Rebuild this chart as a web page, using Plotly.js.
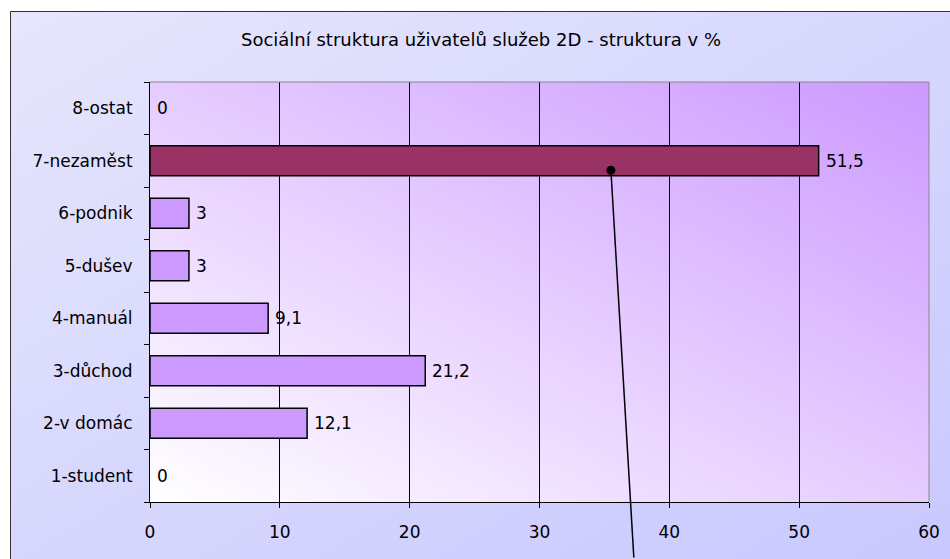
<!DOCTYPE html>
<html><head><meta charset="utf-8">
<script src="https://cdn.plot.ly/plotly-3.0.1.min.js"></script>
<style>html,body{margin:0;padding:0;background:#fff;}#chart{width:950px;height:559px;}</style>
</head><body><div id="chart"></div>
<script>
const titleText = 'Sociální struktura uživatelů služeb 2D - struktura v %';
const categories = ['1-student','2-v domác','3-důchod','4-manuál','5-dušev','6-podnik','7-nezaměst','8-ostat'];
const values = [0, 12.1, 21.2, 9.1, 3, 3, 51.5, 0];
const highlightCategory = '7-nezaměst';
const xTicks = [0, 10, 20, 30, 40, 50, 60];
const calloutX = 35.5;

const W = 950, H = 559, L = 150, R = 21, T = 82, B = 57;
const PW = W - L - R, PH = H - T - B;

function gradSvg(c0, c1, x1, y1, x2, y2) {
  const s = '<svg xmlns="http://www.w3.org/2000/svg" width="200" height="200" viewBox="0 0 200 200" preserveAspectRatio="none">' +
    '<defs><linearGradient id="g" x1="' + x1 + '" y1="' + y1 + '" x2="' + x2 + '" y2="' + y2 + '">' +
    '<stop offset="0" stop-color="' + c0 + '"/><stop offset="1" stop-color="' + c1 + '"/></linearGradient></defs>' +
    '<rect width="200" height="200" fill="url(#g)"/></svg>';
  return 'data:image/svg+xml;charset=utf-8,' + encodeURIComponent(s);
}

const fmt = v => String(v).replace('.', ',');
const colors = categories.map(c => c === highlightCategory ? '#993366' : '#cc99ff');
const lineWidths = values.map(v => v === 0 ? 0 : 1.5);
const FONT = 'DejaVu Sans, Verdana, sans-serif';

const frameX0 = (10.5 - L) / PW, frameX1 = (W + 2 - L) / PW;
const frameY1 = (H - B - 11.5) / PH, frameY0 = (H - B - (H + 2)) / PH;

const trace = {
  type: 'bar', orientation: 'h',
  x: values, y: categories,
  marker: { color: colors, line: { color: '#000000', width: lineWidths } },
  hoverinfo: 'skip'
};

const valueAnnotations = categories.map((c, i) => ({
  x: values[i], y: c, xref: 'x', yref: 'y',
  text: fmt(values[i]), showarrow: false,
  xanchor: 'left', yanchor: 'middle', xshift: 5,
  font: { family: FONT, size: 17, color: '#000' }
}));

const hiIdx = categories.indexOf(highlightCategory);
const callout = {
  x: calloutX, y: hiIdx - 0.18, xref: 'x', yref: 'y',
  text: '', showarrow: true, arrowhead: 6, arrowsize: 1.5, arrowwidth: 1.5,
  arrowcolor: '#000', axref: 'pixel', ayref: 'pixel', ax: 23, ay: 392, standoff: 0
};

const layout = {
  width: W, height: H, autosize: false,
  margin: { l: L, r: R, t: T, b: B, pad: 0 },
  paper_bgcolor: '#ffffff', plot_bgcolor: 'rgba(0,0,0,0)',
  font: { family: FONT, size: 17, color: '#000' },
  title: { text: titleText, font: { family: FONT, size: 18, color: '#000' },
    xref: 'container', yref: 'container', x: 481 / W, y: 1 - 40 / H, xanchor: 'center', yanchor: 'middle' },
  showlegend: false, hovermode: false,
  bargap: 0.43,
  xaxis: {
    range: [0, 60], tickvals: xTicks, ticktext: xTicks.map(String),
    ticks: 'outside', ticklen: 5, tickcolor: '#000', tickwidth: 1,
    showline: true, linecolor: '#000', linewidth: 1,
    showgrid: true, gridcolor: '#000', gridwidth: 1, zeroline: false,
    ticklabelstandoff: 10, fixedrange: true
  },
  yaxis: {
    type: 'category', categoryorder: 'array', categoryarray: categories,
    tickson: 'boundaries', ticks: 'outside', ticklen: 5, tickcolor: '#000', tickwidth: 1,
    showline: true, linecolor: '#000', linewidth: 1,
    showgrid: false, zeroline: false, ticklabelstandoff: 13, fixedrange: true
  },
  images: [
    { source: gradSvg('#e6e6fc', '#c8c8ff', 0, 0, 1, 1), xref: 'paper', yref: 'paper',
      x: frameX0, y: frameY1, sizex: frameX1 - frameX0, sizey: frameY1 - frameY0,
      xanchor: 'left', yanchor: 'top', sizing: 'stretch', layer: 'below' },
    { source: gradSvg('#ffffff', '#cc99ff', 0, 1, 1, 0), xref: 'paper', yref: 'paper',
      x: 0, y: 1, sizex: 1, sizey: 1, xanchor: 'left', yanchor: 'top', sizing: 'stretch', layer: 'below' }
  ],
  shapes: [
    { type: 'rect', xref: 'paper', yref: 'paper', x0: frameX0, x1: frameX1, y0: frameY0, y1: frameY1,
      line: { color: '#333333', width: 1 }, fillcolor: 'rgba(0,0,0,0)', layer: 'above' },
    { type: 'line', xref: 'paper', yref: 'paper', x0: 0, x1: 1, y0: 1, y1: 1,
      line: { color: '#888888', width: 1 }, layer: 'above' },
    { type: 'line', xref: 'paper', yref: 'paper', x0: 1, x1: 1, y0: 0, y1: 1,
      line: { color: '#888888', width: 1 }, layer: 'above' }
  ],
  annotations: valueAnnotations.concat([callout])
};

Plotly.newPlot('chart', [trace], layout, { staticPlot: true, displayModeBar: false });
</script>
</body></html>
